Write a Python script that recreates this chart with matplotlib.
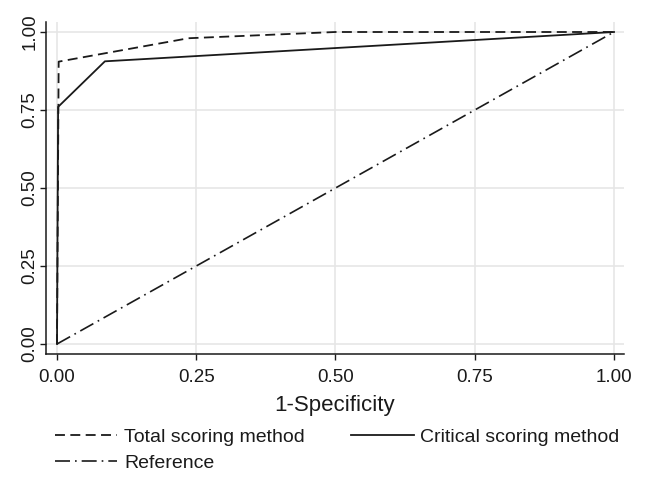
import matplotlib
matplotlib.use("Agg")
import matplotlib.pyplot as plt

plt.rcParams['font.family'] = ['Liberation Sans', 'DejaVu Sans']

# Data
total_x = [0.0, 0.003, 0.236, 0.5, 1.0]
total_y = [0.0, 0.905, 0.98, 1.0, 1.0]
critical_x = [0.0, 0.002, 0.086, 1.0]
critical_y = [0.0, 0.76, 0.906, 1.0]
ref_x = [0.0, 1.0]
ref_y = [0.0, 1.0]
ticks = [0.0, 0.25, 0.5, 0.75, 1.0]
tick_labels = ["0.00", "0.25", "0.50", "0.75", "1.00"]

fig = plt.figure(figsize=(6.46, 4.79), dpi=100)
ax = fig.add_axes([46/646, 1-354/479, (624-46)/646, (354-22)/479])

lc = '#1a1a1a'
l1, = ax.plot(total_x, total_y, color=lc, lw=1.3, linestyle=(0, (5.5, 3)),
              label='Total scoring method')
l2, = ax.plot(critical_x, critical_y, color=lc, lw=1.3, linestyle='-',
              label='Critical scoring method')
l3, = ax.plot(ref_x, ref_y, color=lc, lw=1.2, linestyle=(0, (9, 3, 1, 3)),
              label='Reference')

ax.set_xlim(-11/557, 1 + 10/557)
ax.set_ylim(-10/312, 1 + 10/312)
ax.set_xticks(ticks)
ax.set_xticklabels(tick_labels)
ax.set_yticks(ticks)
ax.set_yticklabels(tick_labels, rotation=90, va='center')
ax.grid(True, color='#e6e6e6', lw=1.2)
ax.set_axisbelow(True)
for s in ['top', 'right']:
    ax.spines[s].set_visible(False)
for s in ['left', 'bottom']:
    ax.spines[s].set_color('#1a1a1a')
    ax.spines[s].set_linewidth(1.1)
ax.tick_params(axis='x', length=4.5, width=1.0, pad=6, labelsize=13.5, colors='#1a1a1a')
ax.tick_params(axis='y', length=4.5, width=1.0, pad=1, labelsize=13.5, colors='#1a1a1a')
ax.set_xlabel('1-Specificity', fontsize=16, color='#1a1a1a', labelpad=7)

# order so that rows read: Total, Critical / Reference
fig.legend(handles=[l1, l3, l2], loc='upper left', bbox_to_anchor=(55/646, 1-428/479),
           ncol=2, frameon=False, fontsize=14, handlelength=3.2, handletextpad=0.35,
           columnspacing=2.4, labelspacing=0.45, borderpad=0, borderaxespad=0,
           labelcolor='#1a1a1a')

fig.savefig('out.png', dpi=100, facecolor='white')
